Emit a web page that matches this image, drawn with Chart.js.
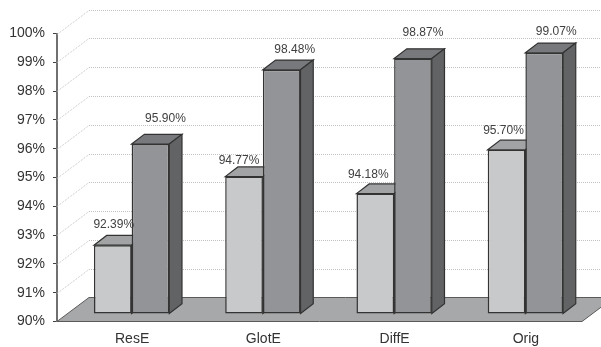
<!DOCTYPE html>
<html>
<head>
<meta charset="utf-8">
<style>
  html, body { margin: 0; padding: 0; background: #fff; }
  canvas { display: block; }
</style>
<script src="https://cdn.jsdelivr.net/npm/chart.js@4"></script>
</head>
<body>
<canvas id="myChart" width="601" height="347"></canvas>
<script>
const categories = ['ResE', 'GlotE', 'DiffE', 'Orig'];
const light_values = [92.39, 94.77, 94.18, 95.70];
const dark_values = [95.90, 98.48, 98.87, 99.07];

// label nudges from the top of each bar [dx, dy]
const light_label_shift = [[1, -20], [-5, -16], [-7, -19], [-3, -19]];
const dark_label_shift = [[15, -25], [13, -20], [10, -26], [12, -21]];

const wall_dx = 32, wall_dy = 24;   // depth of the whole box
const bar_dx = 9, bar_dy = 7.5;     // bars stand a bit behind the front edge
const depth_x = 12.7, depth_y = 9.7;

function polygon(ctx, points, fill, stroke, width) {
	ctx.beginPath();
	points.forEach((p, i) => (i ? ctx.lineTo(p[0], p[1]) : ctx.moveTo(p[0], p[1])));
	ctx.closePath();
	ctx.fillStyle = fill;
	ctx.fill();
	ctx.strokeStyle = stroke;
	ctx.lineWidth = width;
	ctx.stroke();
}

const box3d = {
	id: 'box3d',
	beforeDatasetsDraw(chart) {
		const { ctx, chartArea, scales } = chart;
		const { left, right, bottom } = chartArea;

		// back wall grid lines
		ctx.save();
		ctx.strokeStyle = '#c2c2c2';
		ctx.lineWidth = 1;
		ctx.setLineDash([1, 1]);
		for (let v = 91; v <= 100; v++) {
			const y = Math.round(scales.y.getPixelForValue(v)) + 0.5;
			ctx.beginPath();
			ctx.moveTo(left, y);
			ctx.lineTo(left + wall_dx, y - wall_dy);
			ctx.lineTo(chart.width, y - wall_dy);
			ctx.stroke();
		}
		ctx.restore();

		// floor
		polygon(ctx, [
			[left, bottom],
			[right, bottom],
			[right + wall_dx, bottom - wall_dy],
			[left + wall_dx, bottom - wall_dy],
		], '#a7a8aa', '#5a5a5a', 1);

		ctx.save();
		ctx.translate(bar_dx, -bar_dy);
		const tops = ['#a2a3a5', '#78797c'];
		chart.data.datasets.forEach((ds, d) => {
			chart.getDatasetMeta(d).data.forEach((bar) => {
				const l = bar.x - bar.width / 2;
				const r = bar.x + bar.width / 2;
				polygon(ctx, [[l, bar.y], [l + depth_x, bar.y - depth_y], [r + depth_x, bar.y - depth_y], [r, bar.y]], tops[d], '#333', 1.2);
				polygon(ctx, [[r, bar.y], [r + depth_x, bar.y - depth_y], [r + depth_x, bar.base - depth_y], [r, bar.base]], '#626365', '#333', 1.2);
			});
		});
	},
	afterDatasetsDraw(chart) {
		const { ctx } = chart;
		ctx.restore();

		ctx.save();
		ctx.font = '12px "Liberation Sans", Arial, sans-serif';
		ctx.fillStyle = '#404040';
		ctx.textAlign = 'center';
		ctx.textBaseline = 'middle';
		const shifts = [light_label_shift, dark_label_shift];
		chart.data.datasets.forEach((ds, d) => {
			chart.getDatasetMeta(d).data.forEach((bar, i) => {
				const s = shifts[d][i];
				ctx.fillText(ds.data[i].toFixed(2) + '%', bar.x + bar_dx + s[0], bar.y - bar_dy + s[1]);
			});
		});
		ctx.restore();
	},
};

new Chart(document.getElementById('myChart').getContext('2d'), {
	type: 'bar',
	data: {
		labels: categories,
		datasets: [
			{ data: light_values, backgroundColor: '#c8c9cb' },
			{ data: dark_values, backgroundColor: '#939497' },
		],
	},
	options: {
		responsive: false,
		animation: false,
		clip: false,
		base: 90,
		borderColor: '#333',
		borderWidth: 1.5,
		borderSkipped: false,
		categoryPercentage: 0.574,
		barPercentage: 1,
		layout: { padding: { top: 33.5, right: 19 } },
		plugins: { legend: { display: false }, tooltip: { enabled: false } },
		scales: {
			x: {
				afterFit: (s) => { s.height = 25.5; },
				border: { display: false },
				grid: { display: false, tickLength: 0 },
				ticks: {
					labelOffset: 9.5,
					padding: 9,
					maxRotation: 0,
					color: '#333',
					font: { family: '"Liberation Sans", Arial, sans-serif', size: 14 },
				},
			},
			y: {
				min: 90,
				max: 100,
				afterFit: (s) => { s.width = 57; },
				border: { display: true, color: '#707070', width: 2 },
				grid: { display: true, drawOnChartArea: false, drawTicks: true, tickLength: 4, tickColor: '#404040' },
				ticks: {
					stepSize: 1,
					padding: 8,
					color: '#333',
					font: { family: '"Liberation Sans", Arial, sans-serif', size: 14 },
					callback: (v) => v + '%',
				},
			},
		},
	},
	plugins: [box3d],
});
</script>
</body>
</html>
